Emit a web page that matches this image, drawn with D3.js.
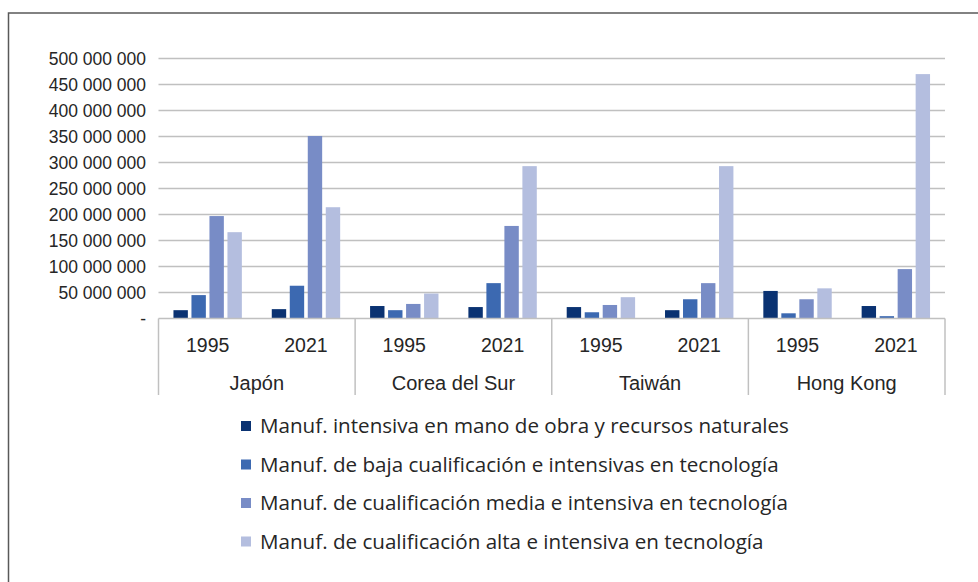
<!DOCTYPE html>
<html>
<head>
<meta charset="utf-8">
<script src="https://cdn.jsdelivr.net/npm/d3@7"></script>
<style>
  body { margin: 0; background: #fff; }
  text { font-family: "Liberation Sans", Arial, sans-serif; fill: #262626; }
</style>
</head>
<body>
<div id="chart"></div>
<script>
// data
let countries = ["Japón", "Corea del Sur", "Taiwán", "Hong Kong"];
let years = ["1995", "2021"];
let seriesNames = [
    "Manuf. intensiva en mano de obra y recursos naturales",
    "Manuf. de baja cualificación e intensivas en tecnología",
    "Manuf. de cualificación media e intensiva en tecnología",
    "Manuf. de cualificación alta e intensiva en tecnología"
];
// one array per series, order: Japón 1995, 2021, Corea 1995, 2021, Taiwán 1995, 2021, HK 1995, 2021
let manoObra = [16e6, 18e6, 24e6, 22e6, 22e6, 16e6, 53e6, 24e6];
let bajaCualif = [45e6, 63e6, 16e6, 68e6, 12e6, 37e6, 10e6, 4.5e6];
let mediaCualif = [197e6, 351e6, 28e6, 178e6, 26e6, 68e6, 37e6, 95e6];
let altaCualif = [166e6, 214e6, 48e6, 293e6, 41e6, 293e6, 58e6, 470e6];
let yTicks = [0, 50e6, 100e6, 150e6, 200e6, 250e6, 300e6, 350e6, 400e6, 450e6, 500e6];

let allSeries = [manoObra, bajaCualif, mediaCualif, altaCualif];
let colors = ["#0a3272", "#3c69b1", "#788cc6", "#b4bedf"];

let width = 978;
let height = 582;

let svg = d3.select("#chart")
    .append("svg")
    .attr("width", width)
    .attr("height", height);

// outer frame (top + left only visible)
svg.append("path")
    .attr("d", "M8.5,600 L8.5,13 L978,13")
    .attr("fill", "none")
    .attr("stroke", "#595959")
    .attr("stroke-width", 1.5);

let plotLeft = 158.5, plotRight = 945;
let y = d3.scaleLinear()
    .domain([0, 500e6])
    .range([318.5, 58.5]);

let xCountry = d3.scaleBand()
    .domain(countries)
    .range([plotLeft, plotRight]);

let xYear = d3.scaleBand()
    .domain(years)
    .range([0, xCountry.bandwidth()]);

let xSeries = d3.scaleBand()
    .domain(d3.range(4))
    .range([xYear.bandwidth() / 2 - 36, xYear.bandwidth() / 2 + 36])
    .paddingInner(0.2)
    .paddingOuter(0.1);

// gridlines
svg.append("g")
    .selectAll("line")
    .data(yTicks.slice(1))
    .enter()
    .append("line")
    .attr("x1", plotLeft)
    .attr("x2", plotRight)
    .attr("y1", d => y(d))
    .attr("y2", d => y(d))
    .attr("stroke", "#c0c0c0")
    .attr("stroke-width", 1.5);

// y labels
svg.append("g")
    .selectAll("text")
    .data(yTicks)
    .enter()
    .append("text")
    .attr("x", 146)
    .attr("y", d => y(d))
    .attr("dy", "0.35em")
    .attr("text-anchor", "end")
    .style("font-size", "17.5px")
    .text(d => d === 0 ? "-" : d3.format(",")(d).replace(/,/g, " "));

// bars
let cells = [];
countries.forEach((c, ci) => {
    years.forEach((yr, yi) => {
        cells.push({ country: c, year: yr, idx: ci * 2 + yi });
    });
});

let groups = svg.selectAll(".cell")
    .data(cells)
    .enter()
    .append("g")
    .attr("transform", d => "translate(" + (xCountry(d.country) + xYear(d.year)) + ",0)");

groups.selectAll("rect")
    .data(d => allSeries.map((s, si) => ({ si: si, v: s[d.idx] })))
    .enter()
    .append("rect")
    .attr("x", d => xSeries(d.si))
    .attr("width", xSeries.bandwidth())
    .attr("y", d => y(d.v))
    .attr("height", d => y(0) - y(d.v))
    .attr("fill", d => colors[d.si]);

// x axis line and separators
svg.append("line")
    .attr("x1", plotLeft)
    .attr("x2", plotRight)
    .attr("y1", y(0))
    .attr("y2", y(0))
    .attr("stroke", "#c0c0c0")
    .attr("stroke-width", 1.5);

let sepX = countries.map(c => xCountry(c)).concat([plotRight]);
svg.append("g")
    .selectAll("line")
    .data(sepX)
    .enter()
    .append("line")
    .attr("x1", d => d)
    .attr("x2", d => d)
    .attr("y1", y(0))
    .attr("y2", 395)
    .attr("stroke", "#c0c0c0")
    .attr("stroke-width", 1.5);

// year labels
groups.append("text")
    .attr("x", xYear.bandwidth() / 2)
    .attr("y", 345)
    .attr("dy", "0.35em")
    .attr("text-anchor", "middle")
    .style("font-size", "19.5px")
    .text(d => d.year);

// country labels
svg.append("g")
    .selectAll("text")
    .data(countries)
    .enter()
    .append("text")
    .attr("x", d => xCountry(d) + xCountry.bandwidth() / 2)
    .attr("y", 383)
    .attr("dy", "0.35em")
    .attr("text-anchor", "middle")
    .style("font-size", "20px")
    .text(d => d);

// legend
let legend = svg.selectAll(".legend")
    .data(seriesNames)
    .enter()
    .append("g")
    .attr("transform", (d, i) => "translate(241," + (426 + i * 38.5) + ")");

legend.append("rect")
    .attr("x", 0)
    .attr("y", -5)
    .attr("width", 10)
    .attr("height", 10)
    .attr("fill", (d, i) => colors[i]);

legend.append("text")
    .attr("x", 19)
    .attr("dy", "0.35em")
    .style("font-family", "'Open Sans', sans-serif")
    .style("font-size", "20.6px")
    .text(d => d);
</script>
</body>
</html>
